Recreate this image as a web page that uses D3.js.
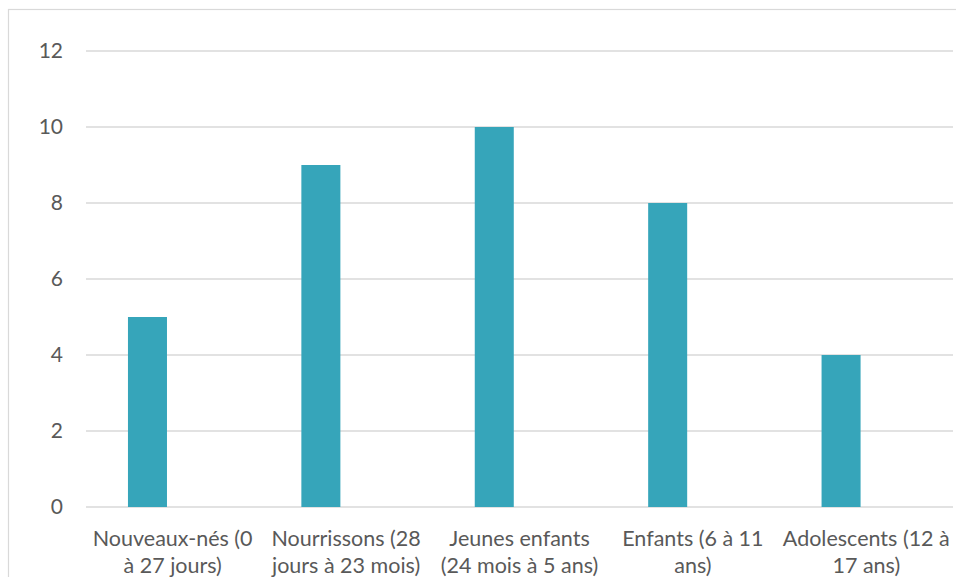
<!DOCTYPE html>
<html>
<head>
<meta charset="utf-8">
<script src="https://cdn.jsdelivr.net/npm/d3@7"></script>
<style>
  html, body { margin: 0; padding: 0; background: #ffffff; overflow: hidden; }
  svg { display: block; }
  text { font-family: Lato, "Open Sans", sans-serif; fill: #595959; }
</style>
</head>
<body>
<script>
// Age groups (each label split into its two display lines)
const categoryLines = [
  ["Nouveaux-nés (0", "à 27 jours)"],
  ["Nourrissons (28", "jours à 23 mois)"],
  ["Jeunes enfants", "(24 mois à 5 ans)"],
  ["Enfants (6 à 11", "ans)"],
  ["Adolescents (12 à", "17 ans)"]
];
const categories = categoryLines.map(l => l.join(" "));
const values = [5, 9, 10, 8, 4];
const yTicks = [0, 2, 4, 6, 8, 10, 12];

const W = 956, H = 577;
const plot = { left: 86, right: 953, top: 51, bottom: 507 };

const svg = d3.select("body").append("svg")
  .attr("width", W).attr("height", H);

// chart frame (extends past the window on the right and bottom)
svg.append("rect")
  .attr("x", 8.5).attr("y", 9.5)
  .attr("width", 1000).attr("height", 700)
  .attr("fill", "none").attr("stroke", "#d9d9d9").attr("stroke-width", 1.2);

const x = d3.scaleBand().domain(categories).range([plot.left, plot.right]).padding(0);
const y = d3.scaleLinear().domain([0, 12]).range([plot.bottom, plot.top]);

// horizontal gridlines
svg.append("g").selectAll("line").data(yTicks).join("line")
  .attr("x1", plot.left).attr("x2", plot.right)
  .attr("y1", d => y(d)).attr("y2", d => y(d))
  .attr("stroke", "#d9d9d9").attr("stroke-width", 1.5);

// y axis labels
const yAxis = d3.axisLeft(y).tickValues(yTicks).tickSize(0).tickPadding(23);
const gy = svg.append("g").attr("transform", `translate(${plot.left},0)`).call(yAxis);
gy.select(".domain").remove();
gy.selectAll("text")
  .style("font-family", "Lato, 'Open Sans', sans-serif")
  .attr("font-size", 21).attr("fill", "#595959");

// bars sit left of the band centre
const barW = x.bandwidth() * 0.225;
const barOffset = x.bandwidth() * 0.242;
svg.append("g").selectAll("rect").data(values).join("rect")
  .attr("x", (d, i) => x(categories[i]) + barOffset)
  .attr("y", d => y(d))
  .attr("width", barW)
  .attr("height", d => y(0) - y(d))
  .attr("fill", "#36a5ba");

// category labels on two lines
const gx = svg.append("g");
categoryLines.forEach((lines, i) => {
  const cx = x(categories[i]) + x.bandwidth() / 2;
  const t = gx.append("text")
    .attr("text-anchor", "middle")
    .attr("font-size", 21.5);
  lines.forEach((ln, j) => {
    t.append("tspan").attr("x", cx).attr("y", 546 + j * 27).text(ln);
  });
});
</script>
</body>
</html>
